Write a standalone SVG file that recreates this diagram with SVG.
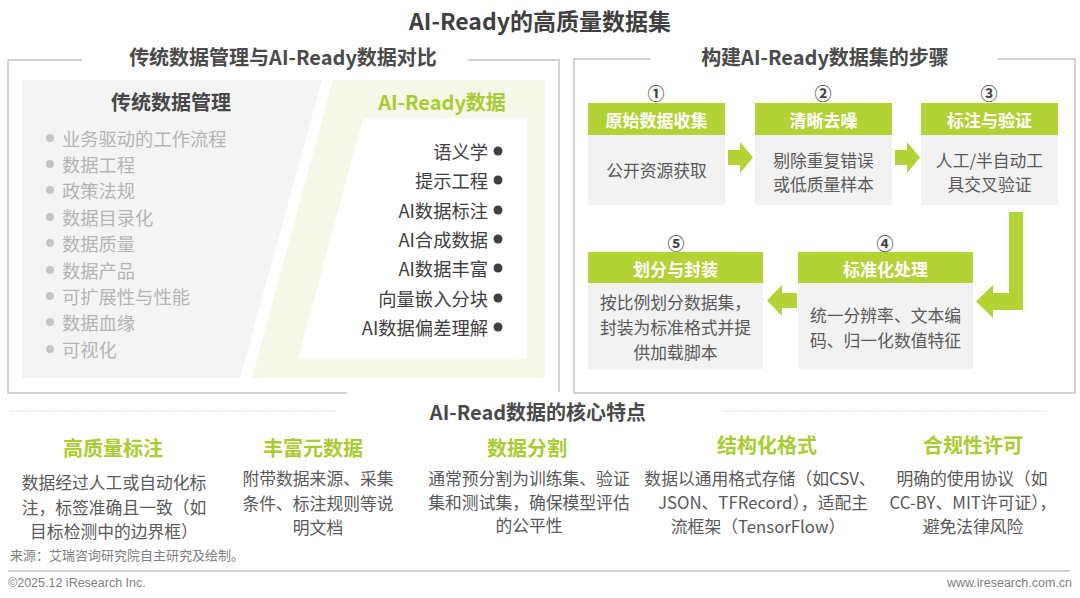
<svg xmlns="http://www.w3.org/2000/svg" width="1080" height="598" viewBox="0 0 1080 598">
<style>
text{font-family:"Noto Sans CJK SC","Microsoft YaHei",sans-serif;}
.t1{font-size:23px;font-weight:bold;fill:#3f3f3f;text-anchor:middle;}
.t2{font-size:20px;font-weight:bold;fill:#4a4a4a;text-anchor:middle;}
.lt{font-size:18.3px;fill:#b4b4b4;}
.rt{font-size:18.3px;fill:#404040;text-anchor:end;}
.hd{font-size:17px;font-weight:bold;fill:#ffffff;text-anchor:middle;}
.bd{font-size:16.8px;fill:#595959;text-anchor:middle;}
.num{font-size:17px;font-weight:bold;fill:#404040;text-anchor:middle;}
.gt{font-size:20px;font-weight:bold;fill:#a9cc2f;text-anchor:middle;}
.ft{font-size:16.8px;fill:#595959;text-anchor:middle;}
.frame{fill:none;stroke:#c3c3c3;stroke-width:1.5;}
.hdr{fill:#b3d234;}
.body{fill:#f2f2f2;}
.arr{fill:#b3d234;}
.dot{stroke:#cfcfcf;stroke-width:1;stroke-dasharray:1.5 1.5;fill:none;}
.foot{font-family:"Liberation Sans",Arial,sans-serif;font-size:12.5px;fill:#7f7f7f;}
</style>

<text class="t1" x="540" y="20" dominant-baseline="central">AI-Ready的高质量数据集</text>

<g id="left-panel">
<path class="frame" d="M82 60 H8 V393 H347"/>
<path class="frame" d="M468 60 H559 V392"/>
<text class="t2" x="283" y="56" dominant-baseline="central">传统数据管理与AI-Ready数据对比</text>
</g>

<g id="traditional">
<polygon points="22,80 322,80 240,378 22,378" fill="#f4f4f4"/>
<text x="171" y="101" dominant-baseline="central" style="font-size:20px;font-weight:bold;fill:#474747;text-anchor:middle">传统数据管理</text>
<g fill="#c4c4c4">
<circle cx="50" cy="138" r="4"/><circle cx="50" cy="164" r="4"/><circle cx="50" cy="190" r="4"/>
<circle cx="50" cy="217" r="4"/><circle cx="50" cy="243" r="4"/><circle cx="50" cy="270" r="4"/>
<circle cx="50" cy="296" r="4"/><circle cx="50" cy="322" r="4"/><circle cx="50" cy="349" r="4"/>
</g>
<text class="lt" x="62" y="138" dominant-baseline="central">业务驱动的工作流程</text>
<text class="lt" x="62" y="164" dominant-baseline="central">数据工程</text>
<text class="lt" x="62" y="190" dominant-baseline="central">政策法规</text>
<text class="lt" x="62" y="217" dominant-baseline="central">数据目录化</text>
<text class="lt" x="62" y="243" dominant-baseline="central">数据质量</text>
<text class="lt" x="62" y="270" dominant-baseline="central">数据产品</text>
<text class="lt" x="62" y="296" dominant-baseline="central">可扩展性与性能</text>
<text class="lt" x="62" y="322" dominant-baseline="central">数据血缘</text>
<text class="lt" x="62" y="349" dominant-baseline="central">可视化</text>
</g>

<g id="ai-ready">
<polygon points="333,80 545,80 545,378 252,378" fill="#f5f8e9"/>
<polygon points="363,118 527,118 527,359 298,359" fill="#ffffff"/>
<text x="442" y="101" dominant-baseline="central" style="font-size:20px;font-weight:bold;fill:#a9cc2f;text-anchor:middle">AI-Ready数据</text>
<g fill="#404040">
<circle cx="498" cy="151" r="4.5"/><circle cx="498" cy="180" r="4.5"/><circle cx="498" cy="210" r="4.5"/>
<circle cx="498" cy="239" r="4.5"/><circle cx="498" cy="268" r="4.5"/><circle cx="498" cy="298" r="4.5"/>
<circle cx="498" cy="327" r="4.5"/>
</g>
<text class="rt" x="488" y="151" dominant-baseline="central">语义学</text>
<text class="rt" x="488" y="180" dominant-baseline="central">提示工程</text>
<text class="rt" x="488" y="210" dominant-baseline="central">AI数据标注</text>
<text class="rt" x="488" y="239" dominant-baseline="central">AI合成数据</text>
<text class="rt" x="488" y="268" dominant-baseline="central">AI数据丰富</text>
<text class="rt" x="488" y="298" dominant-baseline="central">向量嵌入分块</text>
<text class="rt" x="488" y="327" dominant-baseline="central">AI数据偏差理解</text>
</g>

<g id="right-panel">
<path class="frame" d="M651 59 H574 V393 H1075 V59 H998"/>
<text class="t2" x="825" y="56" dominant-baseline="central">构建AI-Ready数据集的步骤</text>
</g>

<g id="step1">
<text class="num" x="656" y="92" dominant-baseline="central">①</text>
<rect class="hdr" x="588" y="103" width="137" height="32"/>
<rect class="body" x="588" y="135" width="137" height="70"/>
<text class="hd" x="656.5" y="119" dominant-baseline="central">原始数据收集</text>
<text class="bd" x="656.5" y="170" dominant-baseline="central">公开资源获取</text>
</g>
<g id="step2">
<text class="num" x="823" y="92" dominant-baseline="central">②</text>
<rect class="hdr" x="755" y="103" width="137" height="32"/>
<rect class="body" x="755" y="135" width="137" height="70"/>
<text class="hd" x="823.5" y="119" dominant-baseline="central">清晰去噪</text>
<text class="bd" x="823.5" y="160" dominant-baseline="central">剔除重复错误</text>
<text class="bd" x="823.5" y="184" dominant-baseline="central">或低质量样本</text>
</g>
<g id="step3">
<text class="num" x="989" y="92" dominant-baseline="central">③</text>
<rect class="hdr" x="921" y="103" width="137" height="32"/>
<rect class="body" x="921" y="135" width="137" height="70"/>
<text class="hd" x="989.5" y="119" dominant-baseline="central">标注与验证</text>
<text class="bd" x="989.5" y="160" dominant-baseline="central">人工/半自动工</text>
<text class="bd" x="989.5" y="184" dominant-baseline="central">具交叉验证</text>
</g>
<g id="step4">
<text class="num" x="885" y="242" dominant-baseline="central">④</text>
<rect class="hdr" x="798" y="252" width="175" height="31"/>
<rect class="body" x="798" y="283" width="175" height="86"/>
<text class="hd" x="885.5" y="268" dominant-baseline="central">标准化处理</text>
<text class="bd" x="885.5" y="315" dominant-baseline="central">统一分辨率、文本编</text>
<text class="bd" x="885.5" y="340" dominant-baseline="central">码、归一化数值特征</text>
</g>
<g id="step5">
<text class="num" x="676" y="242" dominant-baseline="central">⑤</text>
<rect class="hdr" x="588" y="252" width="175" height="31"/>
<rect class="body" x="588" y="283" width="175" height="86"/>
<text class="hd" x="675.5" y="268" dominant-baseline="central">划分与封装</text>
<text class="bd" x="675.5" y="302" dominant-baseline="central">按比例划分数据集，</text>
<text class="bd" x="675.5" y="327" dominant-baseline="central">封装为标准格式并提</text>
<text class="bd" x="675.5" y="352" dominant-baseline="central">供加载脚本</text>
</g>

<g id="connectors">
<polygon class="arr" points="728,150 740,150 740,142 753,157.5 740,173 740,165 728,165"/>
<polygon class="arr" points="895,150 907,150 907,142 920,157.5 907,173 907,165 895,165"/>
<polygon class="arr" points="1009,212 1023,212 1023,310 993,310 993,318 976,301.5 993,285 993,293 1009,293"/>
<polygon class="arr" points="797,293 782,293 782,285 767,300.5 782,316 782,308 797,308"/>
</g>

<g id="features">
<path class="dot" d="M10 411 H337"/>
<path class="dot" d="M723 411 H1047"/>
<text class="t2" x="538" y="411" dominant-baseline="central">AI-Read数据的核心特点</text>

<g id="f1">
<text class="gt" x="113" y="447" dominant-baseline="central">高质量标注</text>
<text class="ft" x="114" y="482" dominant-baseline="central">数据经过人工或自动化标</text>
<text class="ft" x="114" y="507" dominant-baseline="central">注，标签准确且一致（如</text>
<text class="ft" x="114" y="531" dominant-baseline="central">目标检测中的边界框）</text>
</g>
<g id="f2">
<text class="gt" x="313" y="447" dominant-baseline="central">丰富元数据</text>
<text class="ft" x="318" y="478" dominant-baseline="central">附带数据来源、采集</text>
<text class="ft" x="318" y="503" dominant-baseline="central">条件、标注规则等说</text>
<text class="ft" x="318" y="527" dominant-baseline="central">明文档</text>
</g>
<g id="f3">
<text class="gt" x="527" y="447" dominant-baseline="central">数据分割</text>
<text class="ft" x="529" y="478" dominant-baseline="central">通常预分割为训练集、验证</text>
<text class="ft" x="529" y="502" dominant-baseline="central">集和测试集，确保模型评估</text>
<text class="ft" x="529" y="525" dominant-baseline="central">的公平性</text>
</g>
<g id="f4">
<text class="gt" x="767" y="444" dominant-baseline="central">结构化格式</text>
<text class="ft" x="760" y="478" dominant-baseline="central">数据以通用格式存储（如CSV、</text>
<text class="ft" x="763" y="502" dominant-baseline="central">JSON、TFRecord），适配主</text>
<text class="ft" x="758" y="526" dominant-baseline="central">流框架（TensorFlow）</text>
</g>
<g id="f5">
<text class="gt" x="973" y="444" dominant-baseline="central">合规性许可</text>
<text class="ft" x="972" y="478" dominant-baseline="central">明确的使用协议（如</text>
<text class="ft" x="973" y="502" dominant-baseline="central">CC-BY、MIT许可证），</text>
<text class="ft" x="973" y="526" dominant-baseline="central">避免法律风险</text>
</g>
</g>

<text x="10" y="554" dominant-baseline="central" style="font-size:13px;fill:#7f7f7f">来源：艾瑞咨询研究院自主研究及绘制。</text>
<path d="M8 571 H1070" stroke="#a6a6a6" stroke-width="1" fill="none"/>
<text class="foot" x="8" y="583" dominant-baseline="central">©2025.12 iResearch Inc.</text>
<text class="foot" x="1072" y="583" dominant-baseline="central" text-anchor="end">www.iresearch.com.cn</text>
</svg>
